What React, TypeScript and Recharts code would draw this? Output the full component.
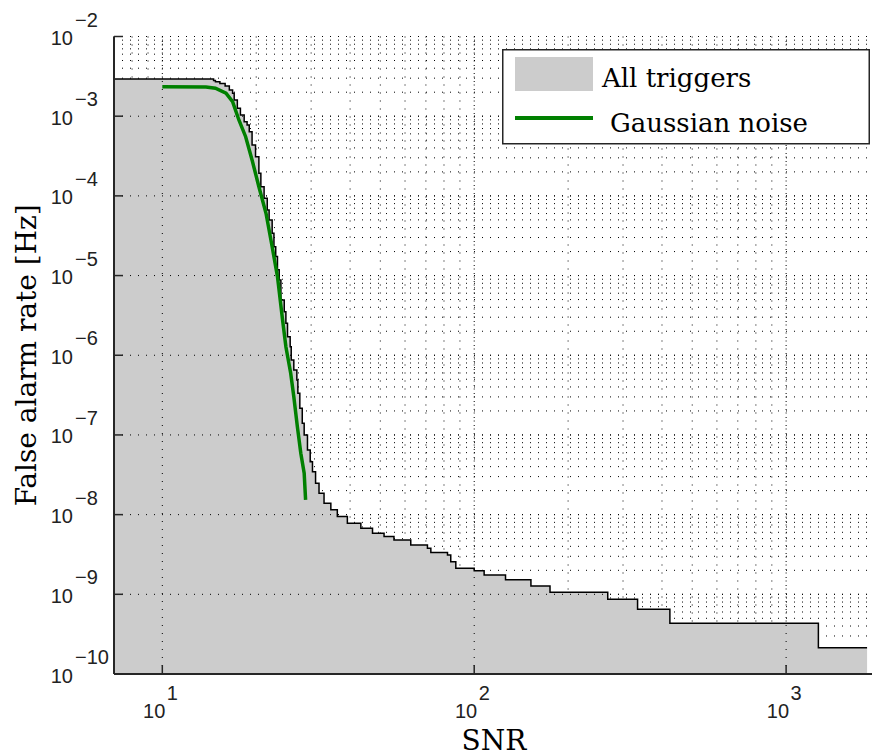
import React from "react";
import {
  ComposedChart,
  Area,
  Line,
  XAxis,
  YAxis,
  CartesianGrid,
  ReferenceLine,
  Legend,
} from "recharts";

// All triggers: cumulative false alarm rate (step curve)
const TRIGGER_SNR = [
  7, 14.6, 14.8, 15.3, 15.9, 16.4, 16.8, 17.0, 17.4, 17.8, 18.3, 18.7, 19.0,
  19.4, 19.9, 20.4, 20.7, 21.2, 21.7, 22.0, 22.5, 22.8, 23.1, 23.4, 23.7, 24.0,
  24.6, 24.9, 25.2, 25.7, 25.9, 26.4, 27.0, 27.2, 27.6, 28.1, 28.5, 29.2, 29.8,
  30.3, 31.0, 31.8, 33.0, 34.7, 36.4, 39.2, 43.3, 47.2, 51.4, 55.3, 62.6, 70.8,
  72.6, 82.1, 84.1, 87.3, 100, 107.6, 126, 152, 175, 268, 334, 424, 1269, 1818,
];
const TRIGGER_RATE = [
  2.93e-3, 2.81e-3, 2.71e-3, 2.57e-3, 2.39e-3, 2.13e-3, 1.94e-3, 1.6e-3,
  1.26e-3, 1.035e-3, 8.53e-4, 7.76e-4, 6.39e-4, 4.35e-4, 3.1e-4, 1.92e-4,
  1.3e-4, 9.33e-5, 6.65e-5, 4.98e-5, 3.4e-5, 2.3e-5, 1.73e-5, 1.18e-5, 8.81e-6,
  4.94e-6, 3.52e-6, 2.52e-6, 1.71e-6, 1.28e-6, 8.73e-7, 6.54e-7, 4.9e-7,
  3.33e-7, 2.16e-7, 1.4e-7, 1.0e-7, 6.48e-8, 4.62e-8, 3.46e-8, 2.48e-8,
  1.86e-8, 1.39e-8, 1.15e-8, 9.44e-9, 7.8e-9, 6.75e-9, 5.84e-9, 5.3e-9,
  4.82e-9, 4.17e-9, 3.79e-9, 3.34e-9, 3.12e-9, 2.57e-9, 2.13e-9, 1.97e-9,
  1.75e-9, 1.52e-9, 1.27e-9, 1.06e-9, 8.68e-10, 6.5e-10, 4.34e-10, 2.14e-10,
  2.14e-10,
];

// Gaussian noise curve
const GAUSS_SNR = [
  10, 13.8, 14.8, 16.0, 16.8, 17.6, 18.5, 19.4, 20.4, 21.5, 22.5, 23.4, 24.3,
  24.9, 25.8, 26.4, 27.1, 27.8, 28.5, 28.8,
];
const GAUSS_RATE = [
  2.34e-3, 2.32e-3, 2.24e-3, 1.94e-3, 1.52e-3, 8.96e-4, 5.53e-4, 2.82e-4,
  1.3e-4, 6.05e-5, 2.3e-5, 9.69e-6, 2.77e-6, 1.28e-6, 5.94e-7, 3.02e-7,
  1.27e-7, 5.89e-8, 3.31e-8, 1.53e-8,
];

const SERIES_NAMES = ["All triggers", "Gaussian noise"];

const X_DECADES = [10, 100, 1000];
const Y_DECADES = [1e-10, 1e-9, 1e-8, 1e-7, 1e-6, 1e-5, 1e-4, 1e-3, 1e-2];
const MANTISSAS = [1, 2, 3, 4, 5, 6, 7, 8, 9];

const X_TICKS = [8, 9, ...X_DECADES.flatMap((d) => MANTISSAS.map((m) => m * d)), 2000];
const Y_TICKS = [
  ...Y_DECADES.slice(0, -1).flatMap((d) => MANTISSAS.map((m) => m * d)),
  1e-2,
];

const AREA_FILL = "#cccccc";
const GREEN = "#008000";
const AXIS = "#262626";
const GRID = "#000000";
const TICK_FONT = "'Liberation Sans', Arial, sans-serif";
const LABEL_FONT = "'DejaVu Serif', serif";

const triggerData = TRIGGER_SNR.map((snr, i) => ({ snr, rate: TRIGGER_RATE[i] }));
const gaussData = GAUSS_SNR.map((snr, i) => ({ snr, rate: GAUSS_RATE[i] }));

function decadeOf(v: number): number | null {
  const e = Math.log10(v);
  return Math.abs(e - Math.round(e)) < 1e-6 ? Math.round(e) : null;
}

function fmtExp(e: number) {
  return e < 0 ? `\u2212${-e}` : `${e}`;
}

function BottomTick(props: any) {
  const { x, y, payload } = props;
  const e = decadeOf(payload.value);
  if (e === null) return <g />;
  return (
    <g>
      <line x1={x} x2={x} y1={y} y2={y - 9} stroke={AXIS} strokeWidth={1.5} />
      <text x={x + 3} y={y + 44} textAnchor="end" fontFamily={TICK_FONT} fontSize={20} fill="#222">
        10
      </text>
      <text x={x + 4.5} y={y + 26} fontFamily={TICK_FONT} fontSize={20} fill="#222">
        {fmtExp(e)}
      </text>
    </g>
  );
}

function TopTick(props: any) {
  const { x, y, payload } = props;
  const e = decadeOf(payload.value);
  if (e === null) return <g />;
  return <line x1={x} x2={x} y1={y} y2={y + 9} stroke={AXIS} strokeWidth={1.5} />;
}

function LeftTick(props: any) {
  const { x, y, payload } = props;
  const e = decadeOf(payload.value);
  if (e === null) return <g />;
  return (
    <g>
      <line x1={x} x2={x + 9} y1={y} y2={y} stroke={AXIS} strokeWidth={1.5} />
      <text x={x - 41} y={y + 8.5} textAnchor="end" fontFamily={TICK_FONT} fontSize={20} fill="#222">
        10
      </text>
      <text x={x - 39} y={y - 10} fontFamily={TICK_FONT} fontSize={20} fill="#222">
        {fmtExp(e)}
      </text>
    </g>
  );
}

function LegendBox() {
  return (
    <svg width={368} height={96} style={{ display: "block" }}>
      <rect x={0.75} y={0.75} width={366.5} height={94} fill="#fff" stroke={AXIS} strokeWidth={1.5} />
      <rect x={13} y={8} width={78} height={34} fill={AREA_FILL} />
      <text x={100} y={38} fontFamily={LABEL_FONT} fontSize={26} fill="#000">
        {SERIES_NAMES[0]}
      </text>
      <line x1={13} x2={91} y1={69} y2={69} stroke={GREEN} strokeWidth={4} />
      <text x={108} y={83} fontFamily={LABEL_FONT} fontSize={26} fill="#000">
        {SERIES_NAMES[1]}
      </text>
    </svg>
  );
}

export default function App() {
  return (
    <div
      style={{
        position: "absolute",
        left: 0,
        top: 0,
        width: 872,
        height: 756,
        overflow: "hidden",
        background: "#fff",
      }}
    >
      <ComposedChart
        width={880}
        height={756}
        margin={{ top: 36.5, right: 0, bottom: 0, left: 0 }}
      >
        <CartesianGrid stroke={GRID} strokeDasharray="1 7" strokeWidth={1} />
        <XAxis
          dataKey="snr"
          type="number"
          scale="log"
          domain={[7, 2000]}
          allowDataOverflow
          ticks={X_TICKS}
          interval={0}
          height={82}
          tickSize={0}
          tickMargin={0}
          tickLine={false}
          tick={<BottomTick />}
          axisLine={{ stroke: AXIS, strokeWidth: 2 }}
          label={{
            value: "SNR",
            position: "insideBottom",
            offset: 6,
            dx: -3,
            style: { fontFamily: LABEL_FONT, fontSize: 28, fill: "#000" },
          }}
        />
        <XAxis
          xAxisId="top"
          orientation="top"
          dataKey="snr"
          type="number"
          scale="log"
          domain={[7, 2000]}
          allowDataOverflow
          ticks={X_TICKS}
          interval={0}
          height={0}
          tickSize={0}
          tickMargin={0}
          tickLine={false}
          tick={<TopTick />}
          axisLine={{ stroke: AXIS, strokeWidth: 2 }}
        />
        <YAxis
          type="number"
          scale="log"
          domain={[1e-10, 1e-2]}
          allowDataOverflow
          ticks={Y_TICKS}
          interval={0}
          width={114}
          tickSize={0}
          tickMargin={0}
          tickLine={false}
          tick={<LeftTick />}
          axisLine={{ stroke: AXIS, strokeWidth: 2 }}
          label={{
            value: "False alarm rate [Hz]",
            angle: -90,
            position: "center",
            dx: -31,
            style: { fontFamily: LABEL_FONT, fontSize: 28, fill: "#000" },
          }}
        />
        <Area
          data={triggerData}
          dataKey="rate"
          name={SERIES_NAMES[0]}
          type="stepAfter"
          baseValue={1e-10}
          fill={AREA_FILL}
          fillOpacity={1}
          stroke="#000"
          strokeWidth={1.5}
          dot={false}
          activeDot={false}
          isAnimationActive={false}
        />
        {X_DECADES.map((v) => (
          <ReferenceLine key={`vx${v}`} x={v} stroke={GRID} strokeDasharray="1 7" />
        ))}
        {Y_DECADES.slice(1, -1).map((v) => (
          <ReferenceLine key={`hy${v}`} y={v} stroke={GRID} strokeDasharray="1 7" />
        ))}
        <Line
          data={gaussData}
          dataKey="rate"
          name={SERIES_NAMES[1]}
          type="linear"
          stroke={GREEN}
          strokeWidth={3.5}
          dot={false}
          activeDot={false}
          isAnimationActive={false}
        />
        <Legend
          layout="vertical"
          align="center"
          verticalAlign="middle"
          content={() => <LegendBox />}
          wrapperStyle={{ left: 502, top: 49, width: 368, height: 96 }}
        />
      </ComposedChart>
    </div>
  );
}
